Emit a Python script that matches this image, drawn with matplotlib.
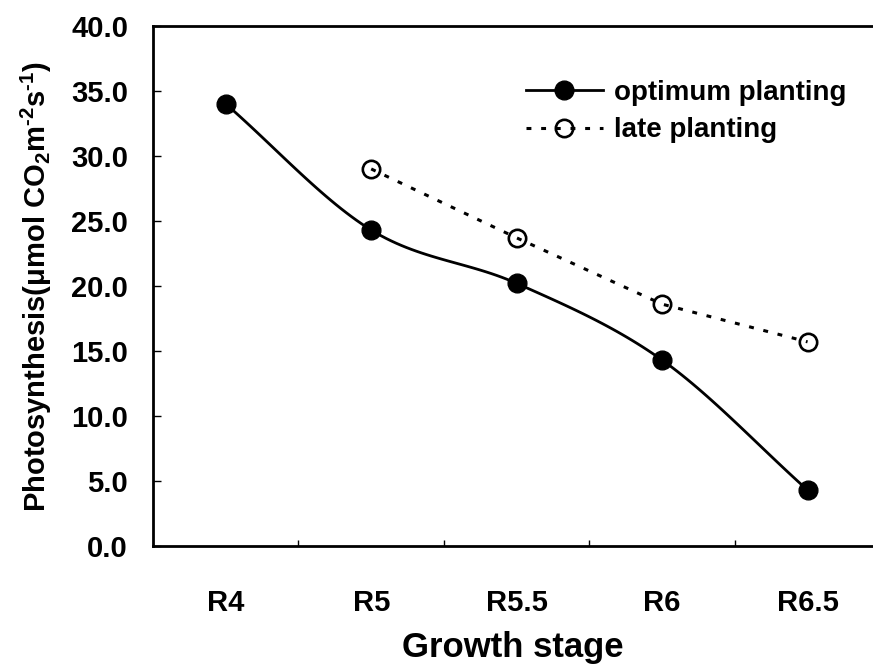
import numpy as np
import matplotlib
matplotlib.use("Agg")
import matplotlib.pyplot as plt

plt.rcParams['font.family'] = ['Liberation Sans', 'DejaVu Sans']
plt.rcParams['font.weight'] = 'bold'
plt.rcParams['mathtext.default'] = 'regular'

# data
stages = ["R4", "R5", "R5.5", "R6", "R6.5"]
optimum = [34.0, 24.3, 20.2, 14.3, 4.3]
late_stages = ["R5", "R5.5", "R6", "R6.5"]
late = [29.0, 23.7, 18.6, 15.7]


def smooth(x, y, n=30):
    # catmull-rom curve through the points (excel style smoothed line)
    x = np.asarray(x, float)
    y = np.asarray(y, float)
    px = np.concatenate([[2 * x[0] - x[1]], x, [2 * x[-1] - x[-2]]])
    py = np.concatenate([[2 * y[0] - y[1]], y, [2 * y[-1] - y[-2]]])
    xs, ys = [], []
    t = np.linspace(0, 1, n)
    for i in range(1, len(px) - 2):
        for p, out in ((px, xs), (py, ys)):
            p0, p1, p2, p3 = p[i - 1], p[i], p[i + 1], p[i + 2]
            out.extend(0.5 * ((2 * p1) + (-p0 + p2) * t
                              + (2 * p0 - 5 * p1 + 4 * p2 - p3) * t ** 2
                              + (-p0 + 3 * p1 - 3 * p2 + p3) * t ** 3))
    return np.array(xs), np.array(ys)


fig = plt.figure(figsize=(8.73, 6.65), dpi=100)
ax = fig.add_axes([0.1753, 0.179, 0.8247, 0.782])

xo = np.arange(len(stages))
xl = np.array([stages.index(s) for s in late_stages])

sx, sy = smooth(xo, optimum)
ax.plot(sx, sy, color='black', lw=2.0, zorder=2)
ax.plot(xo, optimum, ls='none', marker='o', ms=13.5, color='black', zorder=3)
ax.plot(xl, late, ls=(0, (1.6, 3.2)), lw=2.2, color='black', zorder=2)
ax.plot(xl, late, ls='none', marker='o', ms=12.5, mfc='none', mec='black', mew=1.9, zorder=3)

# legend handles
ax.plot([], [], color='black', lw=2.0, marker='o', ms=13.5, label='optimum planting')
ax.plot([], [], color='black', lw=2.2, ls=(0, (1.6, 3.2)), marker='o', ms=12.5,
        mfc='none', mew=1.9, label='late planting')
handles, labels = ax.get_legend_handles_labels()
ax.legend(handles, labels, loc='upper left', bbox_to_anchor=(0.502, 0.918),
          frameon=False, fontsize=20, handlelength=2.8, handletextpad=0.4,
          labelspacing=0.42, borderaxespad=0)

ax.set_xlim(-0.5, 4.45)
ax.set_ylim(0, 40)
ax.set_yticks(np.arange(0, 40.1, 5))
ax.set_yticklabels([f"{v:.1f}" for v in np.arange(0, 40.1, 5)])
ax.set_xticks(xo)
ax.set_xticklabels(stages)
ax.set_xticks(np.arange(0.5, 4.5, 1), minor=True)
ax.tick_params(axis='x', which='major', length=0, pad=31, labelsize=21)
ax.tick_params(axis='x', which='minor', direction='in', length=4, width=1)
ax.tick_params(axis='y', direction='in', length=6, width=1, pad=18, labelsize=21)

ax.spines['right'].set_visible(False)
for s in ('left', 'top', 'bottom'):
    ax.spines[s].set_linewidth(2)

ax.set_xlabel("Growth stage", fontsize=25, fontweight='bold', labelpad=10)
ax.set_ylabel("Photosynthesis(\u03bcmol CO$_2$m$^{\u2010 2}$s$^{\u2010 1}$)", fontsize=21,
              fontweight='bold', labelpad=12)

fig.savefig("out.png", dpi=100)
